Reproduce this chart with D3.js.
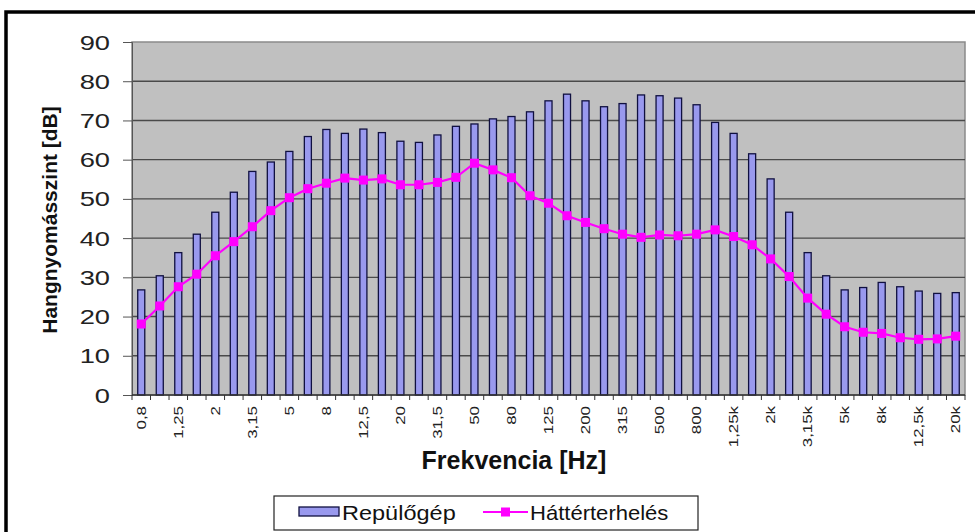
<!DOCTYPE html>
<html><head><meta charset="utf-8">
<script src="https://cdn.jsdelivr.net/npm/d3@7"></script>
<style>body{margin:0;background:#fff;} svg{display:block;font-family:Arial,"Liberation Sans",sans-serif;}</style>
</head><body>
<svg id="c" width="975" height="532"></svg>
<script>
const categories = ["0,8","1","1,25","1,6","2","2,5","3,15","4","5","6,3","8","10","12,5","16","20","25","31,5","40","50","63","80","100","125","160","200","250","315","400","500","630","800","1k","1,25k","1,6k","2k","2,5k","3,15k","4k","5k","6,3k","8k","10k","12,5k","16k","20k"];
const repulogep = [26.8,30.4,36.3,41,46.6,51.7,57,59.4,62.1,65.9,67.7,66.7,67.8,66.9,64.7,64.4,66.3,68.5,69.1,70.4,71,72.2,75,76.7,75,73.5,74.3,76.5,76.3,75.7,74,69.5,66.7,61.5,55.1,46.6,36.3,30.4,26.8,27.4,28.7,27.6,26.5,25.9,26.1];
const hatterterheles = [18.1,22.7,27.6,30.8,35.5,39.1,42.9,47,50.3,52.6,54,55.3,54.8,55.1,53.6,53.6,54.2,55.5,59.1,57.4,55.4,50.8,48.9,45.7,44,42.4,41,40.2,40.8,40.6,41,42.1,40.4,38.3,34.7,30.2,24.7,20.6,17.4,16,15.7,14.6,14.2,14.3,15];
const yTicks = [0,10,20,30,40,50,60,70,80,90];
const seriesNames = ["Repülőgép","Háttérterhelés"];

const svg = d3.select("#c");
const L = 132, R = 965, T = 42, B = 395;

// outer frame (cropped at right/bottom)
svg.append("rect").attr("x",6).attr("y",12).attr("width",1000).attr("height",600)
  .attr("fill","none").attr("stroke","#000").attr("stroke-width",3.5);

const x = d3.scaleBand().domain(categories).range([L,R]);
const y = d3.scaleLinear().domain([0,90]).range([B,T]);

svg.append("rect").attr("x",L).attr("y",T).attr("width",R-L).attr("height",B-T)
  .attr("fill","#c0c0c0").attr("stroke","#8a8a8a").attr("stroke-width",1.5);

// gridlines
svg.append("g").selectAll("line").data(yTicks.filter(d=>d>0 && d<90)).join("line")
  .attr("x1",L).attr("x2",R).attr("y1",d=>y(d)).attr("y2",d=>y(d))
  .attr("stroke","#4a4a4a").attr("stroke-width",1.4);

// y axis
const ya = svg.append("g").attr("transform",`translate(${L},0)`)
  .call(d3.axisLeft(y).tickValues(yTicks).tickSize(9).tickFormat(""));
ya.select(".domain").attr("stroke","#555");
ya.selectAll(".tick line").attr("stroke","#555");
svg.append("g").selectAll("text").data(yTicks).join("text")
  .attr("transform",d=>`translate(110,${y(d)+7.5}) scale(1.3,1)`)
  .attr("text-anchor","end").attr("font-size",21).attr("fill","#222").text(d=>d);

// bars
const bw = x.bandwidth()*0.38;
svg.append("g").selectAll("rect").data(repulogep).join("rect")
  .attr("x",(d,i)=>x(categories[i])+x.bandwidth()/2-bw/2)
  .attr("y",d=>y(d)).attr("width",bw).attr("height",d=>B-y(d))
  .attr("fill","#9999ee").attr("stroke","#101040").attr("stroke-width",1.3);

// x axis
const xa = svg.append("g").attr("transform",`translate(0,${B})`);
xa.append("line").attr("x1",L).attr("x2",R).attr("stroke","#333").attr("stroke-width",1.5);
xa.selectAll("line.t").data(d3.range(categories.length+1)).join("line").attr("class","t")
  .attr("x1",i=>L+i*x.step()).attr("x2",i=>L+i*x.step()).attr("y1",0).attr("y2",5)
  .attr("stroke","#333");
xa.selectAll("text").data(categories.filter((d,i)=>i%2===0)).join("text")
  .attr("transform",d=>`translate(${x(d)+x.bandwidth()/2+4.5},11) rotate(-90) scale(1.35,1)`)
  .attr("text-anchor","end").attr("font-size",12.5).attr("fill","#222").text(d=>d);

// line series
const line = d3.line().x((d,i)=>x(categories[i])+x.bandwidth()/2).y(d=>y(d));
svg.append("path").datum(hatterterheles).attr("d",line)
  .attr("fill","none").attr("stroke","#ff00ff").attr("stroke-width",2.2);
svg.append("g").selectAll("rect").data(hatterterheles).join("rect")
  .attr("x",(d,i)=>x(categories[i])+x.bandwidth()/2-4.5).attr("y",d=>y(d)-4.5)
  .attr("width",9).attr("height",9).attr("fill","#ff00ff");

// titles
svg.append("text").attr("transform","translate(57,220) rotate(-90)").attr("text-anchor","middle")
  .attr("font-size",21).attr("font-weight","bold").attr("fill","#111").text("Hangnyomásszint [dB]");
svg.append("text").attr("x",514).attr("y",469).attr("text-anchor","middle")
  .attr("font-size",25).attr("font-weight","bold").attr("fill","#111").text("Frekvencia [Hz]");

// legend
const lg = svg.append("g");
lg.append("rect").attr("x",274).attr("y",496).attr("width",424).attr("height",34)
  .attr("fill","#fff").attr("stroke","#222").attr("stroke-width",1.2);
lg.append("rect").attr("x",299).attr("y",507).attr("width",40).attr("height",9)
  .attr("fill","#9999ee").attr("stroke","#101040").attr("stroke-width",1.3);
lg.append("text").attr("transform","translate(342,520) scale(1.12,1)").attr("font-size",21).attr("fill","#111").text(seriesNames[0]);
lg.append("line").attr("x1",483).attr("x2",528).attr("y1",512).attr("y2",512).attr("stroke","#ff00ff").attr("stroke-width",2.2);
lg.append("rect").attr("x",501).attr("y",507.5).attr("width",9).attr("height",9).attr("fill","#ff00ff");
lg.append("text").attr("transform","translate(530,520) scale(1.05,1)").attr("font-size",21).attr("fill","#111").text(seriesNames[1]);
</script>
</body></html>
